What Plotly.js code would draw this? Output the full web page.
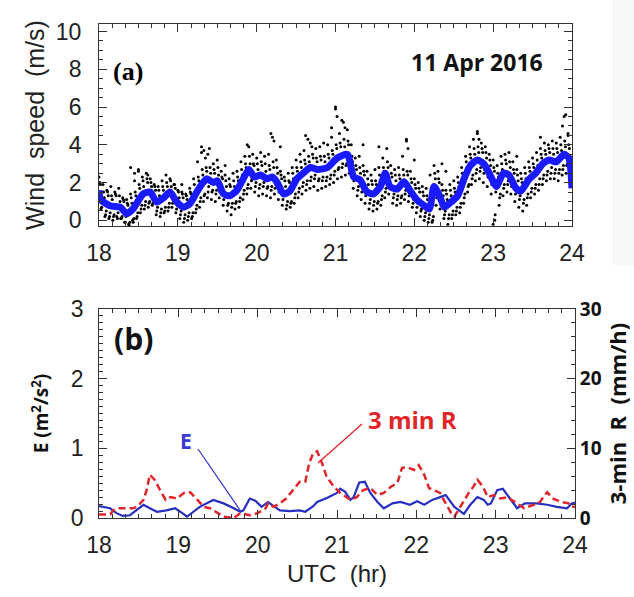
<!DOCTYPE html>
<html><head><meta charset="utf-8">
<script src="https://cdn.plot.ly/plotly-3.0.1.min.js"></script>
<style>html,body{margin:0;padding:0;background:#fff}#chart{width:634px;height:597px}</style>
</head><body><div id="chart"></div>
<script>
// ---- Panel (a): wind speed ----
var hourTicks = [18, 19, 20, 21, 22, 23, 24];
var scatterStart = 18.0, scatterStep = 0.05; // 3-min samples
var windA = [2.3,1.9,1.6,1.8,1.5,1.7,1.2,1.1,1.4,2.1, 2.6,2.3,2.5,2.2,1.9,1.8,2.1,2.4,2.2,1.9, 1.6,1.5,1.4,1.7,2.2,3.1,3.6,3.3,3.8,3.0, 3.2,2.6,2.4,2.2,2.5,2.6,3.1,3.4,3.9,3.5, 3.3,3.6,3.4,3.5,4.4,3.2,2.6,2.3,2.5,2.8, 3.2,3.5,3.7,4.3,3.9,3.8,3.9,4.1,4.0,4.4, 5.9,4.6,5.2,4.8,4.0,3.3,3.4,2.9,2.6,2.4, 2.7,2.8,3.3,3.8,2.9,2.7,2.8,3.4,4.3,2.6, 2.2,2.0,1.8,1.7,2.4,2.9,2.6,1.9,1.6,1.9, 2.1,2.3,2.8,3.4,3.9,4.3,4.7,4.1,3.9,3.5, 3.2,2.9,3.4,3.5,3.6,3.1,2.7,2.5,2.8,3.1, 3.3,3.6,3.8,4.1,4.0,4.2,4.1,4.4,5.5,4.6];
var windB = [0.6,0.2,0.1,0.0,0.2,0.1,-0.1,-0.2,0.0,0.1, 0.4,0.6,0.7,0.8,0.3,0.2,0.4,0.5,0.7,0.4, 0.1,-0.1,0.0,0.1,0.4,0.7,1.0,1.2,1.1,1.0, 1.2,0.8,0.5,0.3,0.6,0.7,1.1,1.4,1.7,1.5, 1.3,1.4,1.3,1.2,1.4,1.1,0.8,0.6,0.7,0.9, 1.2,1.4,1.6,1.7,1.8,1.6,1.7,1.8,1.9,2.0, 2.2,2.3,2.4,2.5,1.7,1.3,1.1,0.9,0.6,0.5, 0.6,0.8,1.2,1.4,0.9,0.8,0.9,1.1,1.0,0.7, 0.4,0.2,0.0,-0.1,-0.1,0.8,0.6,0.1,-0.2,0.1, 0.3,0.4,0.9,1.5,1.9,2.1,2.2,2.0,1.8,1.4, 0.3,0.8,1.3,1.5,1.4,1.0,0.7,0.5,0.8,1.2, 1.4,1.6,1.9,2.1,2.2,2.2,2.1,2.4,2.5,2.3];
var windC = [1.9,1.2,1.3,1.1,1.3,1.0,1.0,0.8,0.9,1.3, 1.7,1.8,2.0,1.8,1.6,1.3,1.6,1.8,1.8,1.7, 1.2,1.2,1.1,1.4,1.5,2.1,2.4,2.6,2.5,2.5, 2.4,2.2,1.8,1.8,1.8,2.1,2.4,2.8,3.0,2.9, 2.7,2.9,2.6,2.7,2.8,2.5,2.2,1.8,2.0,2.2, 2.6,2.8,3.0,3.1,3.3,3.1,3.2,3.1,3.3,3.5, 3.8,3.9,3.9,4.0,3.1,2.7,2.5,2.4,1.9,1.9, 1.9,2.1,2.6,2.8,2.3,2.1,2.2,2.4,2.4,2.0, 1.7,1.5,1.3,1.1,1.1,2.2,2.0,1.3,1.1,1.3, 1.5,1.8,2.2,2.8,3.3,3.5,3.6,3.6,3.3,2.9, 2.6,2.3,2.7,3.0,2.8,2.5,2.1,2.0,2.2,2.6, 2.8,2.9,3.3,3.5,3.6,3.5,3.6,3.7,3.9,3.8];
var windD = [0.9,0.5,0.4,0.3,0.4,0.2,0.2,-0.1,0.1,0.4, 0.8,1.0,1.0,1.1,0.7,0.6,0.7,0.9,1.1,0.8, 0.5,0.3,0.4,0.4,0.8,1.2,1.4,1.8,1.6,1.6, 1.7,1.3,0.9,0.9,1.0,1.2,1.6,1.9,2.2,2.0, 1.9,2.0,1.8,1.8,1.9,1.6,1.3,1.0,1.0,1.4, 1.7,2.0,2.1,2.3,2.4,2.2,2.3,2.3,2.4,2.6, 2.8,3.0,3.0,3.1,2.3,1.8,1.7,1.5,1.1,1.0, 1.0,1.3,1.7,1.9,1.4,1.3,1.3,1.6,1.5,1.1, 0.9,0.6,0.4,0.3,0.2,1.3,1.1,0.5,0.3,0.5, 0.7,0.9,1.4,1.9,2.4,2.7,2.8,2.7,2.5,2.1, 1.7,1.4,1.9,2.1,2.0,1.6,1.3,1.1,1.4,1.7, 1.9,2.2,2.4,2.6,2.8,2.7,2.7,2.9,3.0,2.9];
var windE = [2.0,1.5,1.5,1.3,1.4,1.3,1.1,0.9,1.2,1.5, 1.9,2.1,2.2,2.0,1.8,1.6,1.8,2.0,2.1,1.9, 1.5,1.4,1.3,1.5,1.9,2.3,2.7,2.8,2.8,2.7, 2.8,2.3,2.1,1.9,2.1,2.3,2.7,3.0,3.4,3.0, 3.0,3.1,3.0,2.9,3.1,2.8,2.4,2.1,2.1,2.5, 2.8,3.1,3.2,3.4,3.5,3.3,3.4,3.4,3.5,3.7, 4.0,4.1,4.3,4.2,3.4,2.9,2.8,2.6,2.2,2.1, 2.1,2.4,2.8,3.1,2.5,2.4,2.4,2.7,2.6,2.2, 1.9,1.7,1.5,1.3,1.3,2.5,2.2,1.6,1.4,1.6, 1.7,2.0,2.5,3.1,3.5,3.8,3.9,3.8,3.6,3.2, 2.8,2.5,3.0,3.2,3.1,2.7,2.4,2.2,2.5,2.8, 3.0,3.2,3.5,3.7,3.8,3.8,3.8,4.0,4.2,4.0];
var windF = [0.7,0.3,0.2,0.2,0.1,0.1,-0.1,-0.3,-0.1,0.2, 0.6,0.8,0.9,0.9,0.5,0.4,0.5,0.7,0.9,0.6, 0.3,0.1,0.2,0.2,0.6,1.0,1.3,1.5,1.5,1.4, 1.5,1.1,0.8,0.7,0.9,1.0,1.4,1.7,2.1,1.8, 1.7,1.8,1.7,1.6,1.7,1.5,1.1,0.8,0.9,1.2, 1.5,1.8,1.9,2.1,2.2,2.1,2.1,2.1,2.2,2.4, 2.7,2.8,2.9,2.9,2.1,1.6,1.5,1.3,0.9,0.8, 0.9,1.1,1.5,1.8,1.2,1.1,1.2,1.4,1.3,0.9, 0.7,0.5,0.2,0.1,0.0,1.2,0.9,0.3,0.1,0.3, 0.5,0.7,1.2,1.8,2.2,2.5,2.6,2.5,2.3,1.9, 1.5,1.2,1.7,1.9,1.8,1.4,1.1,0.9,1.2,1.5, 1.7,1.9,2.2,2.4,2.5,2.5,2.5,2.7,2.9,2.7];
var outlierT = [18.4,18.45,18.5,18.62,19.05,19.3,19.33,19.38,19.6,19.88,20.18,20.22,20.3,20.62,20.68,20.95,21.0,21.02,21.08,21.12,21.35,21.55,21.9,21.92,22.0,22.35,22.4,22.8,22.82,23.0,23.02,23.3,23.6,23.88,23.92,23.95];
var outlierV = [2.8,2.5,2.7,2.4,1.9,3.9,3.7,3.5,2.9,4.0,4.6,4.2,3.9,4.5,4.1,4.9,6.0,5.5,5.3,4.9,4.0,3.9,4.2,3.8,3.2,3.0,2.6,4.6,4.3,-0.2,0.0,3.4,4.4,5.0,5.6,4.5];
var smoothT = [18.0,18.02,18.14,18.27,18.35,18.43,18.56,18.65,18.73,18.82,18.9,18.98,19.07,19.15,19.24,19.32,19.37,19.45,19.5,19.58,19.66,19.75,19.83,19.9,19.97,20.05,20.13,20.2,20.26,20.34,20.42,20.51,20.59,20.68,20.77,20.9,21.02,21.15,21.23,21.31,21.4,21.48,21.57,21.63,21.69,21.78,21.87,21.95,22.03,22.12,22.19,22.25,22.32,22.38,22.46,22.55,22.64,22.71,22.8,22.88,22.95,23.04,23.13,23.2,23.29,23.35,23.45,23.54,23.63,23.71,23.8,23.9,23.96,24.0];
var smoothV = [1.6,1.1,0.77,0.7,0.35,0.6,1.4,1.5,0.97,1.2,1.5,1.0,0.7,0.87,1.5,2.0,2.2,2.0,2.1,1.4,1.3,1.6,2.2,2.7,2.3,2.4,2.2,2.3,2.0,1.4,1.55,2.2,2.5,2.8,2.7,2.8,3.3,3.5,2.3,2.15,1.5,1.4,1.8,2.5,1.8,1.65,2.05,1.55,1.1,0.8,0.6,1.8,1.3,0.7,0.95,1.3,2.3,2.9,3.2,3.0,2.5,1.8,2.5,2.4,1.7,1.55,2.15,2.5,3.0,3.2,3.1,3.5,3.3,1.7];

// ---- Panel (b): E and 3-min R ----
var eT = [18.0,18.14,18.22,18.3,18.39,18.48,18.56,18.64,18.73,18.85,18.96,19.05,19.11,19.19,19.27,19.44,19.57,19.7,19.78,19.82,19.9,19.97,20.05,20.13,20.2,20.28,20.41,20.53,20.6,20.7,20.75,20.88,21.0,21.04,21.1,21.17,21.21,21.28,21.35,21.42,21.51,21.59,21.7,21.8,21.92,22.01,22.1,22.2,22.3,22.37,22.48,22.6,22.68,22.77,22.85,22.9,22.94,23.02,23.09,23.19,23.27,23.37,23.52,23.65,23.77,23.9,23.96,24.0];
var eV = [0.17,0.14,0.07,0.03,0.04,0.12,0.19,0.14,0.09,0.11,0.14,0.07,0.02,0.09,0.16,0.26,0.21,0.14,0.09,0.11,0.28,0.25,0.16,0.23,0.17,0.11,0.1,0.11,0.09,0.17,0.23,0.29,0.36,0.42,0.38,0.26,0.3,0.51,0.52,0.36,0.23,0.14,0.21,0.23,0.19,0.24,0.19,0.26,0.3,0.33,0.16,0.06,0.19,0.3,0.26,0.19,0.21,0.4,0.42,0.26,0.14,0.21,0.21,0.19,0.16,0.14,0.21,0.22];
var rT = [18.0,18.14,18.18,18.25,18.43,18.48,18.56,18.6,18.64,18.7,18.77,18.84,18.9,18.98,19.07,19.15,19.24,19.32,19.4,19.49,19.57,19.7,19.78,19.9,20.0,20.1,20.13,20.2,20.28,20.36,20.45,20.53,20.6,20.65,20.7,20.75,20.81,20.87,20.96,21.04,21.17,21.25,21.33,21.42,21.51,21.59,21.68,21.76,21.82,21.88,21.97,22.03,22.1,22.16,22.22,22.3,22.37,22.44,22.48,22.55,22.66,22.72,22.77,22.84,22.9,22.98,23.06,23.15,23.27,23.36,23.48,23.56,23.6,23.65,23.72,23.82,23.92,23.96,24.0];
var rV = [0.5,0.5,1.1,1.4,1.4,1.6,2.6,4.0,6.2,5.5,4.0,2.6,3.0,2.8,3.6,3.7,2.6,1.6,1.4,0.7,0.2,0.0,0.7,0.4,0.7,1.4,2.1,1.6,2.1,2.8,4.0,5.2,5.2,7.9,9.3,9.6,7.9,5.9,4.5,3.6,2.6,3.0,4.0,4.3,3.3,3.6,4.5,5.0,7.2,7.3,6.9,7.6,6.2,4.3,4.0,3.6,2.1,0.7,0.2,1.6,3.6,4.5,5.5,4.5,3.0,3.3,2.8,3.0,2.1,1.4,1.9,2.3,3.0,3.7,2.8,2.3,2.1,1.6,1.6];

var scatterT = windA.map(function(_, i){ return scatterStart + i*scatterStep; });
function shifted(off){ return scatterT.map(function(t){ return t + off; }); }

var dotStyle = {color:'#000', size:3};
function dots(x, y){ return {x:x, y:y, type:'scatter', mode:'markers', marker:dotStyle, xaxis:'x', yaxis:'y', name:'wind speed'}; }
var traces = [
  dots(shifted(0), windA),
  dots(shifted(0.0083), windE),
  dots(shifted(0.0167), windC),
  dots(shifted(0.025), windB),
  dots(shifted(0.0333), windF),
  dots(shifted(0.0417), windD),
  dots(outlierT, outlierV),
  {x: smoothT, y: smoothV, type:'scatter', mode:'lines', line:{color:'#1a1aff', width:7, shape:'spline', smoothing:0.6}, xaxis:'x', yaxis:'y', name:'smoothed'},
  {x: rT, y: rV, type:'scatter', mode:'lines', line:{color:'#e0262a', width:2.5, dash:'7px,4px'}, xaxis:'x2', yaxis:'y3', name:'3 min R'},
  {x: eT, y: eV, type:'scatter', mode:'lines', line:{color:'#2630c0', width:2.2}, xaxis:'x2', yaxis:'y2', name:'E'}
];

var tickFont = {family:'Liberation Sans, Arial, sans-serif', size:23, color:'#222'};
var boldFont = function(sz, col){ return {family:'Open Sans, Noto Sans, sans-serif', size:sz, color:col||'#111', weight:'bold'}; };
var xCommon = {
  range:[18,24], tickvals:hourTicks, ticks:'inside', ticklen:8, tickwidth:1, tickcolor:'#333',
  showline:true, linecolor:'#333', linewidth:1, mirror:'ticks', showgrid:false, zeroline:false,
  minor:{dtick:1/6, ticks:'inside', ticklen:4, tickcolor:'#333', showgrid:false},
  tickfont:tickFont, ticklabelstandoff:6
};

function paperAnn(px, py, text, font){
  return {xref:'paper', yref:'paper', x:px/634, y:1-py/597, xanchor:'center', yanchor:'middle', text:text, showarrow:false, font:font};
}
function leader(x0, y0, x1, y1, col){
  return {type:'line', xref:'paper', yref:'paper', x0:x0/634, y0:1-y0/597, x1:x1/634, y1:1-y1/597, line:{color:col, width:1.3}};
}

var layout = {
  width:634, height:597, margin:{l:0, r:0, t:0, b:0}, showlegend:false,
  paper_bgcolor:'#fff', plot_bgcolor:'#fff',
  xaxis: Object.assign({}, xCommon, {domain:[0.1562, 0.9022], anchor:'y'}),
  yaxis: {domain:[0.6214, 0.9598], anchor:'x', range:[-0.3, 10.4], tickvals:[0,2,4,6,8,10],
    ticks:'inside', ticklen:8, tickcolor:'#333', showline:true, linecolor:'#333', mirror:'ticks',
    showgrid:false, zeroline:false, minor:{dtick:0.5, ticks:'inside', ticklen:4, tickcolor:'#333', showgrid:false},
    tickfont:tickFont, ticklabelstandoff:12,
    title:{text:'Wind  speed  (m/s)', font:{family:'Liberation Sans, Arial, sans-serif', size:25, color:'#222'}, standoff:4}},
  xaxis2: Object.assign({}, xCommon, {domain:[0.1562, 0.9069], anchor:'y2',
    title:{text:'UTC  (hr)', font:{family:'Liberation Sans, Arial, sans-serif', size:24, color:'#222'}, standoff:8}}),
  yaxis2: {domain:[0.1323, 0.4824], anchor:'x2', range:[0, 3], tickvals:[0,1,2,3],
    ticks:'inside', ticklen:8, tickcolor:'#333', showline:true, linecolor:'#333',
    showgrid:false, zeroline:false, minor:{dtick:0.1, ticks:'inside', ticklen:4, tickcolor:'#333', showgrid:false},
    tickfont:tickFont, ticklabelstandoff:10,
    title:{text:'E (m<sup>2</sup>/s<sup>2</sup>)', font:boldFont(19), standoff:16}},
  yaxis3: {overlaying:'y2', side:'right', anchor:'x2', range:[0, 30], tickvals:[0,10,20,30],
    ticks:'inside', ticklen:8, tickcolor:'#333', showline:true, linecolor:'#333',
    showgrid:false, zeroline:false, minor:{dtick:2, ticks:'inside', ticklen:4, tickcolor:'#333', showgrid:false},
    tickfont:boldFont(19), ticklabelstandoff:0,
    title:{text:'3-min  R  (mm/h)', font:boldFont(22), standoff:6}},
  annotations: [
    paperAnn(128, 71, '(a)', {family:'Liberation Serif, Times New Roman, serif', size:26, color:'#000', weight:'bold'}),
    paperAnn(477, 62, '11 Apr 2016', boldFont(23)),
    paperAnn(133, 338, '(b)', boldFont(30)),
    paperAnn(186, 441, 'E', boldFont(21, '#3a3ad0')),
    paperAnn(412, 419, '3 min R', boldFont(24, '#e0262a'))
  ],
  shapes: [
    {type:'rect', xref:'paper', yref:'paper', x0:612/634, x1:1, y0:1-265/597, y1:1, fillcolor:'#f8f8f8', line:{width:0}, layer:'below'},
    leader(198, 449, 240, 510, '#3a3ad0'),
    leader(362, 424, 318, 463, '#e0262a')
  ]
};

Plotly.newPlot('chart', traces, layout, {staticPlot:true, displayModeBar:false});
</script></body></html>
